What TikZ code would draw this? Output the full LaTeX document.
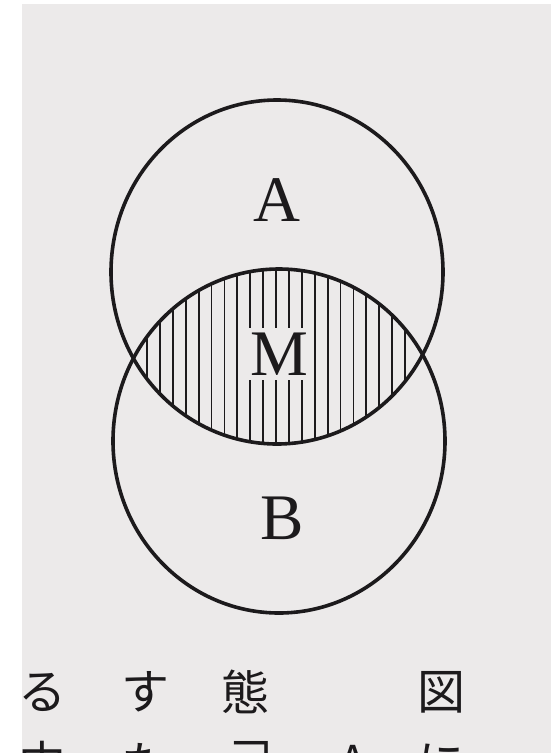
\documentclass[tikz,border=0pt]{standalone}
\usepackage{fontspec}
\setmainfont{Liberation Serif}
\newfontfamily\jpfont{Noto Sans CJK JP}
\definecolor{paper}{RGB}{236,234,234}
\definecolor{ink}{RGB}{28,26,28}

\begin{document}
\begin{tikzpicture}[x=1pt,y=-1pt,
  every node/.style={text=ink,font=\fontsize{65}{70}\selectfont},
  ring/.style={draw=ink,line width=3.6pt},
  hatchline/.style={draw=ink,line width=1.8pt},
  jptext/.style={font=\jpfont\fontsize{48}{48}\selectfont,inner sep=0pt}]
  \useasboundingbox (0,0) rectangle (551,753);
  \fill[white] (0,0) rectangle (551,753);
  \fill[paper] (22,4) rectangle (551,753);
  % hatching of the common part
  \begin{scope}
    \clip (277,272) ellipse [x radius=166, y radius=172];
    \clip (279,441) ellipse [x radius=166, y radius=172];
    \foreach \position in {0,...,20}
      \draw[hatchline] (147+12.9*\position,250) -- (147+12.9*\position,460);
  \end{scope}
  \draw[ring] (277,272) ellipse [x radius=166, y radius=172];
  \draw[ring] (279,441) ellipse [x radius=166, y radius=172];
  \node (A) at (277,200) {A};
  \node[fill=paper,inner sep=5pt] (M) at (279,354) {M};
  \node (B) at (282,518) {B};
  % page text below the figure
  \begin{scope}
    \clip (0,0) rectangle (551,753);
    \foreach \position/\entry in {42/る,145/す,245/態,441/図}
      \node[jptext] at (\position,692) {\entry};
    \foreach \position/\entry in {42/中,145/た,353/A,441/に}
      \node[jptext] at (\position,763) {\entry};
    \node[jptext] (bracket) at (245,749) {﹁};
  \end{scope}
\end{tikzpicture}
\end{document}
